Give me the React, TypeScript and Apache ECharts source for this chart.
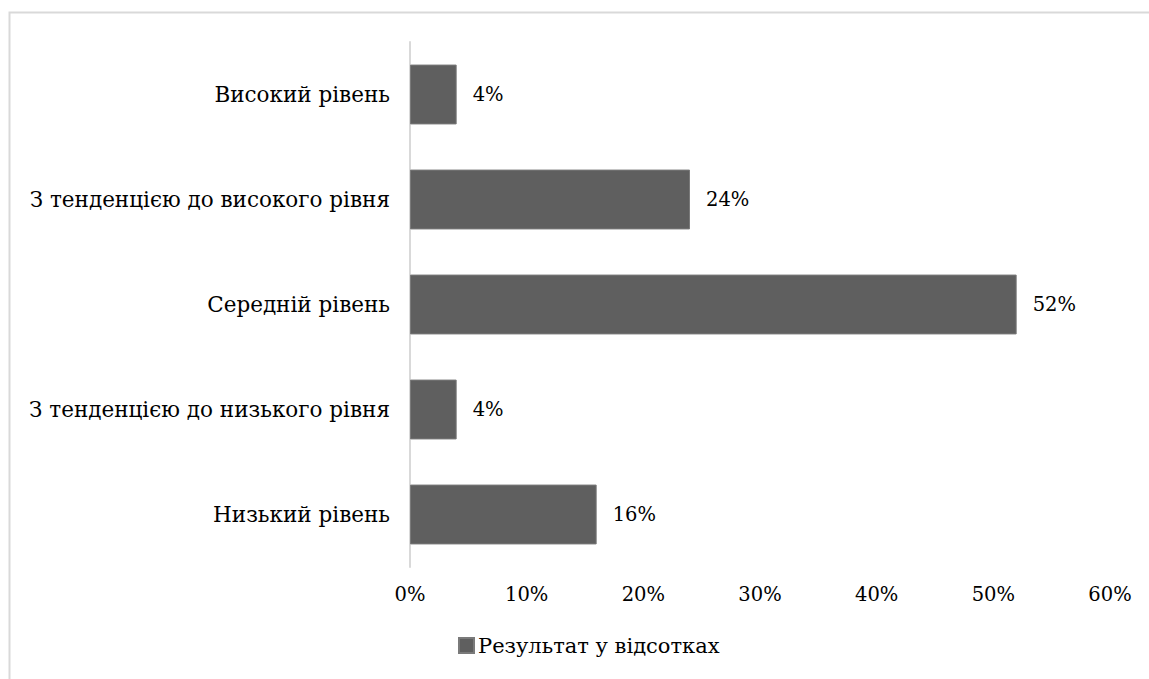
import React, { useEffect, useRef } from "react";
import * as echarts from "echarts";

const categories = [
  "Низький рівень",
  "З тенденцією до низького рівня",
  "Середній рівень",
  "З тенденцією до високого рівня",
  "Високий рівень",
];
const values = [16, 4, 52, 24, 4];
const seriesName = "Результат у відсотках";
const axisTicks = { min: 0, max: 60, interval: 10 };

const CYR = "DejaVu Serif";
const NUM = "DejaVu Serif";

export default function App() {
  const ref = useRef<HTMLDivElement>(null);
  useEffect(() => {
    if (!ref.current) return;
    const chart = echarts.init(ref.current, undefined, { renderer: "svg" });
    chart.setOption({
      animation: false,
      backgroundColor: "#ffffff",
      graphic: [
        {
          type: "rect",
          shape: { x: 9.5, y: 12.5, width: 1200, height: 800 },
          style: { fill: "none", stroke: "#d9d9d9", lineWidth: 2 },
          silent: true,
        },
      ],
      grid: { left: 410, right: 39, top: 42, bottom: 112 },
      legend: {
        data: [seriesName],
        top: 634,
        left: 458,
        padding: 0,
        itemWidth: 15,
        itemHeight: 15,
        itemGap: 5,
        icon: "rect",
        textStyle: { fontFamily: CYR, fontSize: 21, lineHeight: 23, color: "#000", padding: [0, 0, 0, -1] },
      },
      xAxis: {
        type: "value",
        min: axisTicks.min,
        max: axisTicks.max,
        interval: axisTicks.interval,
        splitLine: { show: false },
        axisLine: { show: false },
        axisTick: { show: false },
        axisLabel: {
          formatter: "{value}%",
          fontFamily: NUM,
          fontSize: 19.5,
          color: "#000",
          margin: 17,
        },
      },
      yAxis: {
        type: "category",
        data: categories,
        axisLine: { show: true, lineStyle: { color: "#d9d9d9", width: 2 } },
        axisTick: { show: false },
        axisLabel: {
          fontFamily: CYR,
          fontSize: 21.5,
          color: "#000",
          margin: 20,
        },
      },
      series: [
        {
          name: seriesName,
          type: "bar",
          data: values,
          barWidth: "57%",
          itemStyle: { color: "#5f5f5f", borderColor: "#7a7a7a", borderWidth: 1 },
          label: {
            show: true,
            position: "right",
            distance: 16,
            formatter: "{c}%",
            fontFamily: NUM,
            fontSize: 19.5,
            color: "#000",
          },
        },
      ],
    });
    return () => chart.dispose();
  }, []);
  return (
    <div
      ref={ref}
      style={{ position: "absolute", left: 0, top: 0, width: 1149, height: 679 }}
    />
  );
}
